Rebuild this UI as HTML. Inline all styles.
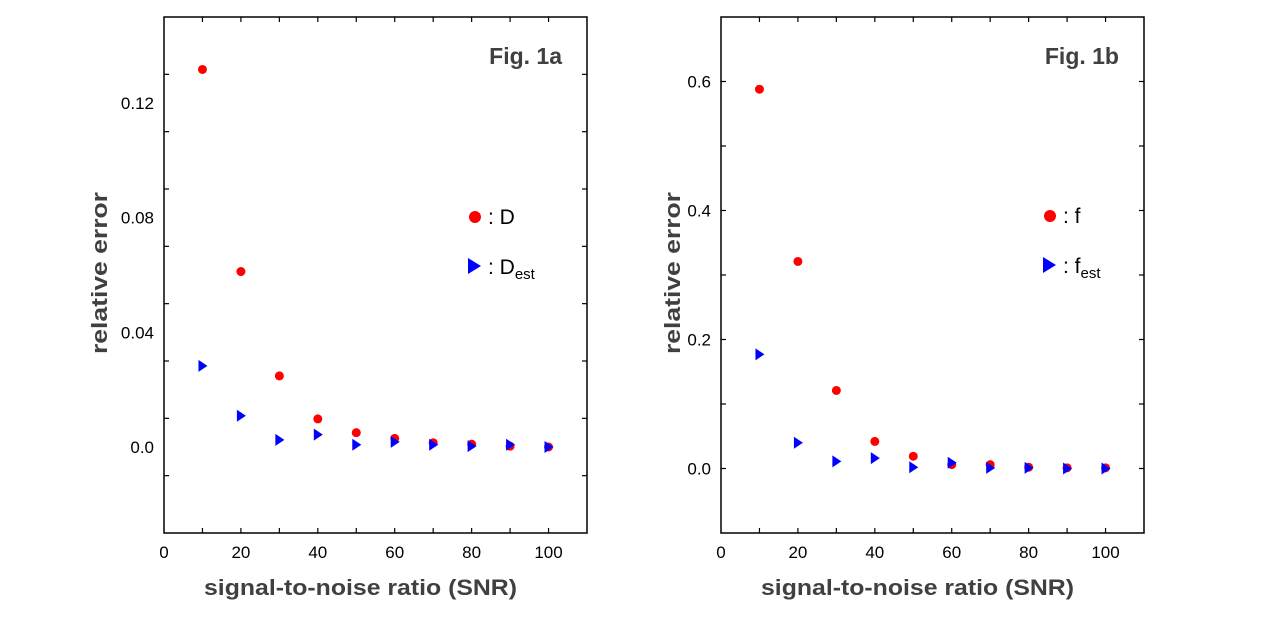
<!DOCTYPE html>
<html><head><meta charset="utf-8"><style>
body{margin:0;background:#fff;width:1264px;height:633px;overflow:hidden}
svg{display:block}
</style></head><body>
<svg id="chart" width="1264" height="633" xmlns="http://www.w3.org/2000/svg"></svg>
<script>
const snr = [10,20,30,40,50,60,70,80,90,100];
const seriesD = [0.1317,0.0612,0.0248,0.0098,0.005,0.003,0.0015,0.001,0.0003,0.0];
const seriesDest = [0.0283,0.0109,0.0025,0.0043,0.0008,0.0018,0.0008,0.0003,0.0008,0.0];
const seriesF = [0.588,0.321,0.121,0.042,0.019,0.006,0.006,0.002,0.001,0.001];
const seriesFest = [0.177,0.040,0.011,0.016,0.002,0.009,0.001,0.001,0.0,0.0];
const xTickLabels = [0,20,40,60,80,100];
const yTickLabelsA = ["0.0","0.04","0.08","0.12"];
const yTickValsA = [0,0.04,0.08,0.12];
const yTickLabelsB = ["0.0","0.2","0.4","0.6"];
const yTickValsB = [0,0.2,0.4,0.6];

const svg = document.getElementById('chart');
const NS = 'http://www.w3.org/2000/svg';
function mk(tag, attrs, parent){
  const e = document.createElementNS(NS, tag);
  for (const k in attrs) e.setAttribute(k, attrs[k]);
  (parent||svg).appendChild(e);
  return e;
}

function panel(o){
  const g = mk('g',{});
  
  
  const X = v => o.x0 + (v - 0) / 110 * (o.x1 - o.x0);
  const Y = v => o.y1 - (v - o.ymin) / (o.ymax - o.ymin) * (o.y1 - o.y0);
  const frame = mk('rect',{x:o.x0,y:o.y0,width:o.x1-o.x0,height:o.y1-o.y0,fill:'none',stroke:'#000','stroke-width':1.5},g);
  
  
  // x ticks
  for (let v=10; v<=100; v+=10){
    const px = X(v);
    mk('line',{x1:px,x2:px,y1:o.y1,y2:o.y1-5,stroke:'#000','stroke-width':1.2},g);
    mk('line',{x1:px,x2:px,y1:o.y0,y2:o.y0+5,stroke:'#000','stroke-width':1.2},g);
  }
  xTickLabels.forEach(v=>{
    const t = mk('text',{x:X(v),y:o.y1+25,'text-anchor':'middle','font-family':'Liberation Sans, sans-serif','font-size':17,fill:'#000'},g);
    t.textContent = v;
    
    
  });
  // y ticks
  for (let v=o.ymin+o.minor; v<o.ymax-1e-9; v+=o.minor){
    const py = Y(v);
    mk('line',{x1:o.x0,x2:o.x0+5,y1:py,y2:py,stroke:'#000','stroke-width':1.2},g);
    mk('line',{x1:o.x1,x2:o.x1-5,y1:py,y2:py,stroke:'#000','stroke-width':1.2},g);
  }
  o.yVals.forEach((v,i)=>{
    const t = mk('text',{x:o.x0-10,y:Y(v)+6,'text-anchor':'end','font-family':'Liberation Sans, sans-serif','font-size':17,fill:'#000'},g);
    t.textContent = o.yLabels[i];
    
    
  });
  // titles
  const xt = mk('text',{x:(o.x0+o.x1)/2-15,y:595,'text-anchor':'middle','font-family':'Liberation Sans, sans-serif','font-weight':'bold','font-size':22,fill:'#404040',textLength:313,lengthAdjust:'spacingAndGlyphs'},g);
  xt.textContent = 'signal-to-noise ratio (SNR)';
  
  
  const yt = mk('text',{x:0,y:0,transform:`translate(${o.ytx},273) rotate(-90)`,'text-anchor':'middle','font-family':'Liberation Sans, sans-serif','font-weight':'bold','font-size':22,fill:'#404040',textLength:162,lengthAdjust:'spacingAndGlyphs'},g);
  yt.textContent = 'relative error';
  
  
  const ft = mk('text',{x:o.x1-25,y:64,'text-anchor':'end','font-family':'Liberation Sans, sans-serif','font-weight':'bold','font-size':23,fill:'#404040'},g);
  ft.textContent = o.fig;
  
  
  // points
  snr.forEach((s,i)=>{
    const c = mk('circle',{cx:X(s),cy:Y(o.s1[i]),r:4.5,fill:'#ff0000'},g);
    
    
  });
  snr.forEach((s,i)=>{
    const px = X(s), py = Y(o.s2[i]);
    const p = mk('polygon',{points:`${px-4},${py-6} ${px+5},${py} ${px-4},${py+6}`,fill:'#0000ff'},g);
    
    
  });
  // legend
  const lg = mk('g',{},g);
  
  
  mk('circle',{cx:o.lx,cy:o.ly,r:6,fill:'#ff0000'},lg);
  const l1 = mk('text',{x:o.lx+13,y:o.ly+7,'font-family':'Liberation Sans, sans-serif','font-size':21,fill:'#000'},lg);
  l1.textContent = ':  ' + o.sym;
  
  
  mk('polygon',{points:`${o.lx-7},${o.ly+41} ${o.lx+6},${o.ly+49} ${o.lx-7},${o.ly+57}`,fill:'#0000ff'},lg);
  const l2 = mk('text',{x:o.lx+13,y:o.ly+57,'font-family':'Liberation Sans, sans-serif','font-size':21,fill:'#000'},lg);
  l2.textContent = ': ' + o.sym;
  const sub = mk('tspan',{'font-size':15,dy:5},l2);
  sub.textContent = 'est';
  
  
}

panel({name:'panel-fig-1a',x0:164,x1:587,y0:17,y1:533,ymin:-0.03,ymax:0.15,minor:0.02,
  yVals:yTickValsA,yLabels:yTickLabelsA,s1:seriesD,s2:seriesDest,n1:'D',n2:'Dest',
  fig:'Fig. 1a',sym:'D',lx:475,ly:217,ytx:107});
panel({name:'panel-fig-1b',x0:721,x1:1144,y0:17,y1:533,ymin:-0.1,ymax:0.7,minor:0.1,
  yVals:yTickValsB,yLabels:yTickLabelsB,s1:seriesF,s2:seriesFest,n1:'f',n2:'fest',
  fig:'Fig. 1b',sym:'f',lx:1050,ly:216,ytx:680});
</script>
</body></html>
